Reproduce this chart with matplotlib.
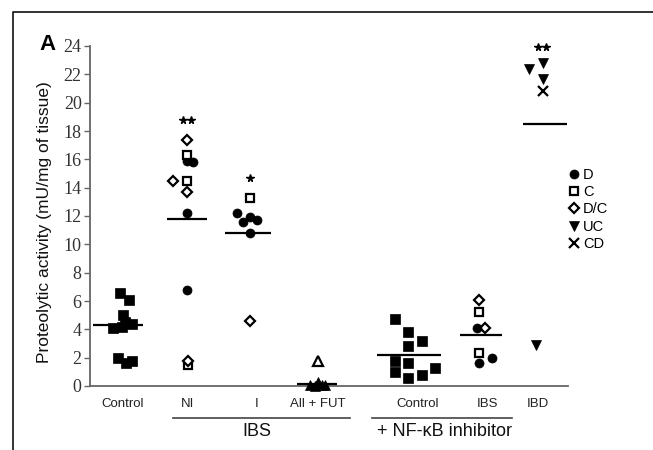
import matplotlib
matplotlib.use("Agg")
import matplotlib.pyplot as plt
import matplotlib.transforms as mtransforms
from matplotlib.lines import Line2D

# ---------------- data ----------------
categories = ["Control", "NI", "I", "All + FUT", "Control", "IBS", "IBD"]
cat_x = [123, 188, 257, 318, 418, 488, 538]

# values and x jitter (relative to category centre)
ctrl_sq_g0 = [6.6, 6.1, 5.0, 4.1, 4.2, 4.4, 4.5, 2.0, 1.8, 1.6]
ctrl_sq_g0_dx = [-3, 6, 0, -10, -1, 9, 2, -5, 9, 3]

ni_D = [15.9, 15.8, 12.2, 6.8]
ni_D_dx = [-1, 5, -1, -1]
ni_C = [16.3, 14.5, 1.5]
ni_C_dx = [-1, -1, 0]
ni_DC = [17.4, 14.5, 13.7, 1.8]
ni_DC_dx = [-1, -15, -1, 0]

i_D = [12.2, 11.9, 11.7, 11.6, 10.8]
i_D_dx = [-20, -7, 0, -14, -7]
i_C = [13.3]
i_C_dx = [-7]
i_DC = [4.6]
i_DC_dx = [-7]

fut_open = [1.8]
fut_open_dx = [0]
fut_filled = [0.1, 0.3, 0.1, 0.0, 0.05]
fut_filled_dx = [-8, 0, 7, -3, 4]

nfk_ctrl = [4.7, 3.8, 3.2, 2.8, 1.8, 1.0, 1.6, 0.8, 0.6, 1.3]
nfk_ctrl_dx = [-23, -10, 4, -10, -23, -23, -10, 4, -10, 17]

nfk_ibs_DC = [6.1, 4.1]
nfk_ibs_DC_dx = [-9, -3]
nfk_ibs_C = [5.2, 2.3]
nfk_ibs_C_dx = [-9, -9]
nfk_ibs_D = [4.1, 1.6, 2.0]
nfk_ibs_D_dx = [-11, -9, 4]

ibd_UC = [22.4, 22.8, 21.7, 2.9]
ibd_UC_dx = [-9, 5, 5, -2]
ibd_CD = [20.8]
ibd_CD_dx = [5]

# group means (horizontal bars)
means = [4.3, 11.8, 10.8, 0.15, 2.2, 3.6, 18.5]
mean_dx = [-5, -0.5, -8.5, -0.5, -8.5, -7, 7]
mean_half = [25, 20, 23, 20, 32, 21, 22]

# significance stars: (category, value, count, dx)
stars = [(1, 18.8, 2, -1), (2, 14.7, 1, -7), (6, 23.9, 2, 4)]

legend_labels = ["D", "C", "D/C", "UC", "CD"]

# ---------------- figure ----------------
W, H = 653, 450
fig = plt.figure(figsize=(W / 100, H / 100), dpi=100)
ax = fig.add_axes([90 / W, 1 - 386 / H, (568 - 90) / W, (386 - 46) / H])
ax.set_xlim(90, 568)
ax.set_ylim(0, 24)

sans = "Liberation Sans"
serif = "Liberation Serif"

for s in ["top", "right"]:
    ax.spines[s].set_visible(False)
for s in ["left", "bottom"]:
    ax.spines[s].set_color("#666666")
    ax.spines[s].set_linewidth(1.3)

ax.set_yticks(range(0, 25, 2))
ax.set_yticklabels([str(v) for v in range(0, 25, 2)])
for lab in ax.get_yticklabels():
    lab.set_fontfamily(serif)
    lab.set_fontsize(13)
    lab.set_color("#333333")
ax.tick_params(axis="y", direction="out", length=4, width=1, color="#666666", pad=2)
ax.set_xticks([])

styles = {
    "sq": dict(marker="s", ms=6.5, mfc="black", mec="black", mew=0.5),
    "D": dict(marker="o", ms=6.5, mfc="black", mec="black", mew=0.5),
    "C": dict(marker="s", ms=5.8, mfc="white", mec="black", mew=1.6),
    "DC": dict(marker="D", ms=4.8, mfc="white", mec="black", mew=1.6),
    "UC": dict(marker="v", ms=7.5, mfc="black", mec="black", mew=0.5),
    "CD": dict(marker="x", ms=6.5, mfc="none", mec="black", mew=1.6),
    "tri_o": dict(marker="^", ms=6.5, mfc="white", mec="black", mew=1.6),
    "tri_f": dict(marker="^", ms=6.5, mfc="black", mec="black", mew=0.5),
}

def draw(gi, vals, dxs, style):
    xs = [cat_x[gi] + d for d in dxs]
    ax.plot(xs, vals, ls="none", clip_on=False, zorder=3, **styles[style])

draw(0, ctrl_sq_g0, ctrl_sq_g0_dx, "sq")
draw(1, ni_D, ni_D_dx, "D")
draw(1, ni_C, ni_C_dx, "C")
draw(1, ni_DC, ni_DC_dx, "DC")
draw(2, i_D, i_D_dx, "D")
draw(2, i_C, i_C_dx, "C")
draw(2, i_DC, i_DC_dx, "DC")
draw(3, fut_open, fut_open_dx, "tri_o")
draw(3, fut_filled, fut_filled_dx, "tri_f")
draw(4, nfk_ctrl, nfk_ctrl_dx, "sq")
draw(5, nfk_ibs_C, nfk_ibs_C_dx, "C")
draw(5, nfk_ibs_DC, nfk_ibs_DC_dx, "DC")
draw(5, nfk_ibs_D, nfk_ibs_D_dx, "D")
draw(6, ibd_UC, ibd_UC_dx, "UC")
draw(6, ibd_CD, ibd_CD_dx, "CD")

for gi, m in enumerate(means):
    c = cat_x[gi] + mean_dx[gi]
    ax.plot([c - mean_half[gi], c + mean_half[gi]], [m, m], color="black",
            lw=1.6, solid_capstyle="butt", zorder=4, clip_on=False)

for gi, v, n, dx in stars:
    c = cat_x[gi] + dx
    xs = [c] if n == 1 else [c - 4, c + 4]
    ax.plot(xs, [v] * n, ls="none", marker="*", ms=5.5, color="black", clip_on=False)

# category labels
blend = mtransforms.blended_transform_factory(ax.transData, fig.transFigure)
for x, lab in zip(cat_x, categories):
    ax.text(x, 1 - 404 / H, lab, transform=blend, ha="center", va="center",
            family=sans, fontsize=9.5, color="#222222")

# group underlines and labels
for x0, x1 in [(173, 350), (372, 512)]:
    ax.plot([x0, x1], [1 - 418 / H] * 2, transform=blend, color="#444444",
            lw=1.2, clip_on=False)
ax.text(257, 1 - 432 / H, "IBS", transform=blend, ha="center", va="center",
        family=sans, fontsize=13, color="#111111")
ax.text(445, 1 - 432 / H, "+ NF-κB inhibitor", transform=blend, ha="center",
        va="center", family=sans, fontsize=13, color="#111111")

# legend
handles = [Line2D([], [], ls="none", **styles[k]) for k in ["D", "C", "DC", "UC", "CD"]]
leg = fig.legend(handles, legend_labels, loc="upper left",
                 bbox_to_anchor=(570 / W, 1 - 168 / H), frameon=False,
                 prop=dict(family=sans, size=10.5), handlelength=0.6,
                 handletextpad=0.3, labelspacing=0.22, borderpad=0, borderaxespad=0)

# axis label and panel letter
fig.text(45 / W, 1 - 222 / H, "Proteolytic activity (mU/mg of tissue)",
         rotation=90, ha="center", va="center", family=sans, fontsize=12.5,
         color="#111111")
fig.text(47 / W, 1 - 44 / H, "A", ha="center", va="center", family=sans,
         fontsize=16, weight="bold")

# frame lines around the panel
fig.add_artist(Line2D([13 / W, 13 / W, 1], [0, 1 - 12 / H, 1 - 12 / H],
                      color="#222222", lw=1.3))

fig.savefig("out.png", dpi=100)
